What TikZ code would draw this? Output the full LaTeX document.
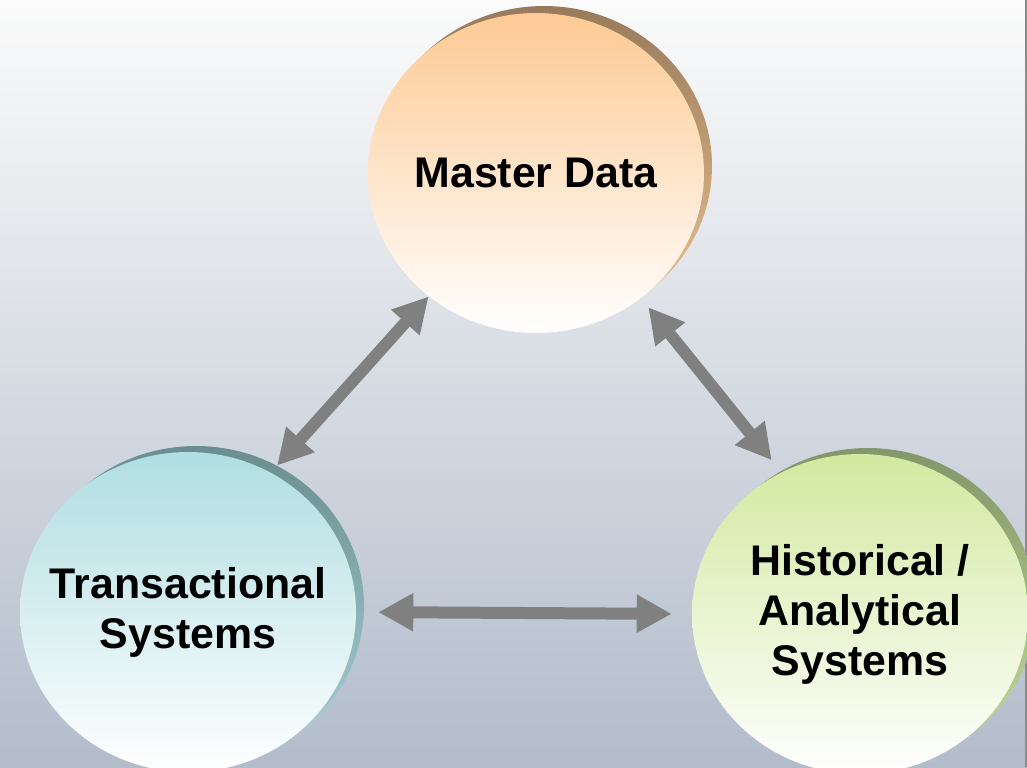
\documentclass[tikz,border=0pt]{standalone}
\usepackage{fontspec}
\setmainfont{Liberation Sans}
\usetikzlibrary{arrows.meta, shapes.geometric}
\definecolor{bgtop}{HTML}{FBFBFB}
\definecolor{bgmid}{HTML}{E8EAEE}
\definecolor{bgbot}{HTML}{B2BCCB}
\definecolor{arrowgray}{HTML}{808080}
\definecolor{mdtop}{HTML}{FDCA94}
\definecolor{mdshtop}{HTML}{987A5C}
\definecolor{mdshbot}{HTML}{F0C592}
\definecolor{tstop}{HTML}{B0DEE2}
\definecolor{tsshtop}{HTML}{6A8E8F}
\definecolor{tsshbot}{HTML}{A9D3D6}
\definecolor{hstop}{HTML}{D2E9A0}
\definecolor{hsshtop}{HTML}{82976A}
\definecolor{hsshbot}{HTML}{C5DE98}
\tikzset{
    bubshadow/.style 2 args={ellipse, minimum width=6.72cm, minimum height=6.4cm, inner sep=0pt, top color=#1, bottom color=#2},
    bubble/.style={ellipse, minimum width=6.72cm, minimum height=6.4cm, inner sep=0pt, top color=#1, bottom color=white},
    bublbl/.style={font=\fontsize{24.4}{28.5}\selectfont\bfseries, align=center, text=black},
    biarrow/.style={{Triangle[length=0.7cm, width=0.72cm]}-{Triangle[length=0.7cm, width=0.72cm]}, line width=0.24cm, draw=arrowgray}
}
\begin{document}
\begin{tikzpicture}[x=0.02cm, y=-0.02cm]
    \useasboundingbox (0,0) rectangle (1027,767);
    \clip (0,0) rectangle (1027,767);
    \shade[top color=bgtop, middle color=bgmid, bottom color=bgbot] (0,0) rectangle (1027,767);
    \draw[gray!90, line width=0.7pt] (1026,0) -- (1026,767);
    % shadow rims
    \node[bubshadow={mdshtop}{mdshbot}] (md-sh) at (544,166) {};
    \node[bubshadow={tsshtop}{tsshbot}] (ts-sh) at (196,606) {};
    \node[bubshadow={hsshtop}{hsshbot}] (hs-sh) at (868,608) {};
    % the three circles
    \node[bubble=mdtop, label={[bublbl]center:{Master Data}}] (md) at (536,173) {};
    \node[bubble=tstop, label={[bublbl]center:{Transactional\\Systems}}] (ts) at (188,612) {};
    \node[bubble=hstop, label={[bublbl]center:{Historical /\\Analytical\\Systems}}] (hs) at (860,614) {};
    % links
    \draw[biarrow] (md.-131) -- (ts-sh.60);
    \draw[biarrow, shorten <=0.23cm, shorten >=0.31cm] (md.-50) -- (hs.119);
    \draw[biarrow, shorten <=0.44cm, shorten >=0.4cm] (ts.east) -- (hs.west);
\end{tikzpicture}
\end{document}
